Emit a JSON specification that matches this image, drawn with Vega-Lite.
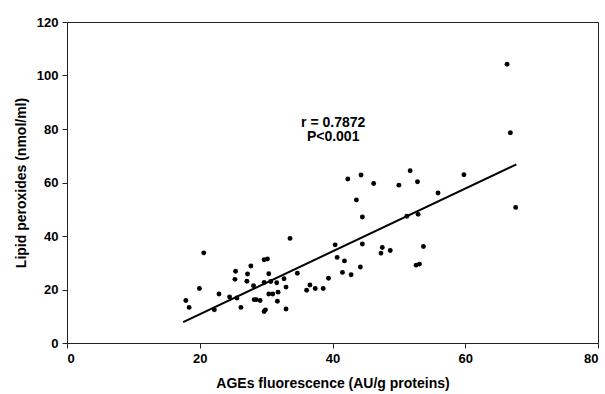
{
  "$schema": "https://vega.github.io/schema/vega-lite/v6.json",
  "width": 531,
  "height": 321,
  "autosize": {"type": "none"},
  "padding": {"left": 67, "top": 22, "right": 7, "bottom": 51},
  "background": "white",
  "config": {
    "font": "Liberation Sans",
    "view": {"stroke": "#222", "strokeWidth": 1},
    "axis": {
      "grid": false,
      "labelFont": "Liberation Sans",
      "labelFontWeight": "bold",
      "labelFontSize": 13,
      "labelColor": "#000",
      "titleFont": "Liberation Sans",
      "titleFontWeight": "bold",
      "titleFontSize": 14,
      "titleColor": "#000",
      "domainColor": "#222",
      "tickColor": "#222",
      "tickSize": 5
    }
  },
  "datasets": {
    "pts": [
      {"ages": 17.9, "lp": 15.9}, {"ages": 18.4, "lp": 13.3}, {"ages": 19.95, "lp": 20.4},
      {"ages": 20.6, "lp": 33.7}, {"ages": 22.2, "lp": 12.4}, {"ages": 22.9, "lp": 18.3},
      {"ages": 24.5, "lp": 17.2}, {"ages": 25.4, "lp": 26.8}, {"ages": 25.3, "lp": 23.8},
      {"ages": 25.6, "lp": 16.8}, {"ages": 26.2, "lp": 13.3}, {"ages": 27.1, "lp": 23.1},
      {"ages": 27.2, "lp": 25.8}, {"ages": 27.7, "lp": 28.8}, {"ages": 28.1, "lp": 21.4},
      {"ages": 28.2, "lp": 16.2}, {"ages": 28.5, "lp": 16.2}, {"ages": 29.1, "lp": 15.9},
      {"ages": 29.7, "lp": 31.1}, {"ages": 30.2, "lp": 31.4}, {"ages": 30.4, "lp": 25.9},
      {"ages": 29.7, "lp": 22.6}, {"ages": 30.7, "lp": 23.0}, {"ages": 31.6, "lp": 22.5},
      {"ages": 30.4, "lp": 18.3}, {"ages": 31.0, "lp": 18.3}, {"ages": 31.8, "lp": 19.0},
      {"ages": 31.7, "lp": 15.6}, {"ages": 29.7, "lp": 11.8}, {"ages": 29.9, "lp": 12.4},
      {"ages": 32.7, "lp": 24.0}, {"ages": 33.0, "lp": 20.9}, {"ages": 33.0, "lp": 12.7},
      {"ages": 33.6, "lp": 39.1}, {"ages": 34.7, "lp": 26.1}, {"ages": 36.1, "lp": 19.7},
      {"ages": 36.6, "lp": 21.7}, {"ages": 37.4, "lp": 20.4}, {"ages": 38.6, "lp": 20.4},
      {"ages": 39.4, "lp": 24.2}, {"ages": 40.4, "lp": 36.7}, {"ages": 40.7, "lp": 32.0},
      {"ages": 41.8, "lp": 30.7}, {"ages": 41.5, "lp": 26.4}, {"ages": 42.8, "lp": 25.5},
      {"ages": 44.2, "lp": 28.4}, {"ages": 44.5, "lp": 37.0}, {"ages": 44.5, "lp": 47.1},
      {"ages": 43.6, "lp": 53.5}, {"ages": 42.3, "lp": 61.3}, {"ages": 44.3, "lp": 62.8},
      {"ages": 46.2, "lp": 59.6}, {"ages": 47.5, "lp": 35.7}, {"ages": 47.3, "lp": 33.6},
      {"ages": 48.7, "lp": 34.6}, {"ages": 50.0, "lp": 59.0}, {"ages": 51.7, "lp": 64.4},
      {"ages": 52.8, "lp": 60.3}, {"ages": 51.2, "lp": 47.4}, {"ages": 52.9, "lp": 48.1},
      {"ages": 53.7, "lp": 36.1}, {"ages": 52.6, "lp": 29.1}, {"ages": 53.1, "lp": 29.5},
      {"ages": 55.9, "lp": 56.1}, {"ages": 59.8, "lp": 62.9}, {"ages": 66.3, "lp": 104.2},
      {"ages": 66.8, "lp": 78.6}, {"ages": 67.6, "lp": 50.7}
    ],
    "fit": [
      {"ages": 17.5, "lp": 7.8},
      {"ages": 67.7, "lp": 66.8}
    ],
    "notes": [
      {"ages": 40.1, "lp": 82.4, "label": "r = 0.7872"},
      {"ages": 40.1, "lp": 76.9, "label": "P<0.001"}
    ]
  },
  "encoding": {
    "x": {
      "field": "ages", "type": "quantitative",
      "scale": {"domain": [0, 80], "nice": false, "zero": true},
      "axis": {"values": [0, 20, 40, 60, 80], "title": "AGEs fluorescence (AU/g proteins)", "titlePadding": 11, "labelPadding": 4}
    },
    "y": {
      "field": "lp", "type": "quantitative",
      "scale": {"domain": [0, 120], "nice": false},
      "axis": {"values": [0, 20, 40, 60, 80, 100, 120], "title": "Lipid peroxides (nmol/ml)", "titlePadding": 8, "labelPadding": 4}
    }
  },
  "layer": [
    {
      "data": {"name": "fit"},
      "mark": {"type": "line", "color": "#000", "strokeWidth": 2}
    },
    {
      "data": {"name": "pts"},
      "mark": {"type": "circle", "color": "#000", "opacity": 1, "size": 24}
    },
    {
      "data": {"name": "notes"},
      "mark": {"type": "text", "font": "Liberation Sans", "fontWeight": "bold", "fontSize": 14, "color": "#000", "align": "center", "baseline": "middle"},
      "encoding": {"text": {"field": "label", "type": "nominal"}}
    }
  ]
}
